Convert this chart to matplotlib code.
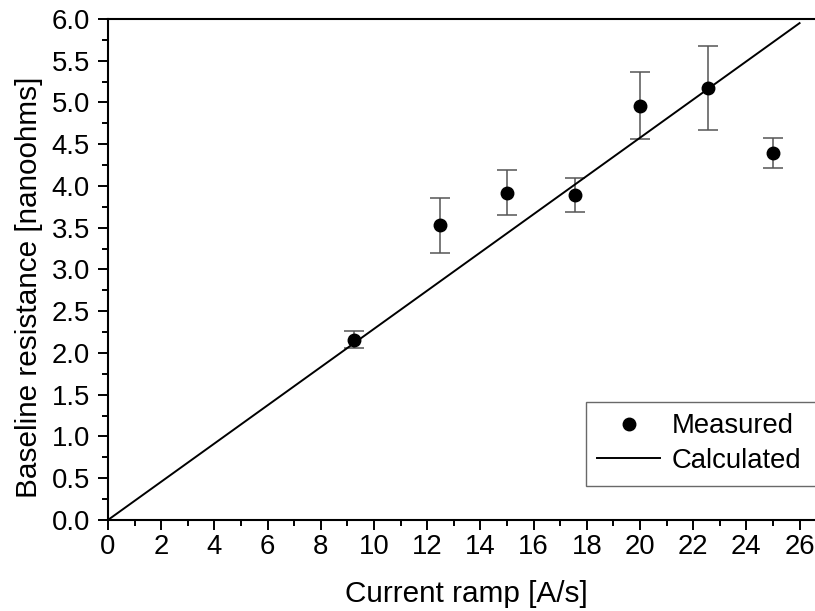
import numpy as np
import matplotlib.pyplot as plt
from matplotlib.ticker import MultipleLocator

# measured points
ramp = [9.25, 12.5, 15.0, 17.55, 20.0, 22.55, 25.0]
resistance = [2.16, 3.53, 3.92, 3.89, 4.96, 5.17, 4.39]
err_low = [0.10, 0.33, 0.27, 0.20, 0.40, 0.50, 0.18]
err_high = [0.10, 0.33, 0.27, 0.20, 0.40, 0.50, 0.18]

# calculated line
calc_x = [0.0, 26.0]
calc_y = [0.0, 5.95]

plt.rcParams['font.family'] = ['Liberation Sans', 'DejaVu Sans']
fs = 19.8
fs_lab = 21.4

fig = plt.figure(figsize=(8.15, 6.11), dpi=100)
ax = fig.add_axes([0.1325, 0.149, 0.8675, 0.82])

ax.errorbar(ramp, resistance, yerr=[err_low, err_high], fmt='none',
            ecolor='#555555', elinewidth=1.1, capsize=7.5, capthick=1.1, zorder=2)
ax.plot(ramp, resistance, 'o', color='black', markersize=9, label='Measured', zorder=3)
ax.plot(calc_x, calc_y, '-', color='black', linewidth=1.4, label='Calculated', zorder=2)

ax.set_xlim(0, 26.58)
ax.set_ylim(0, 6.0)
ax.xaxis.set_major_locator(MultipleLocator(2))
ax.xaxis.set_minor_locator(MultipleLocator(1))
ax.yaxis.set_major_locator(MultipleLocator(0.5))
ax.yaxis.set_minor_locator(MultipleLocator(0.25))
ax.yaxis.set_major_formatter(plt.FormatStrFormatter('%.1f'))

ax.tick_params(which='major', direction='out', length=7.5, width=1.4, labelsize=fs)
ax.tick_params(which='minor', direction='out', length=4, width=1.4)
ax.tick_params(axis='x', which='major', pad=2.5)
ax.tick_params(axis='y', which='major', pad=5.5)
for s in ['left', 'bottom', 'top']:
    ax.spines[s].set_linewidth(1.5)
ax.spines['right'].set_visible(False)

ax.set_xlabel('Current ramp [A/s]', fontsize=fs_lab)
ax.set_ylabel('Baseline resistance [nanoohms]', fontsize=fs_lab)
ax.xaxis.set_label_coords(0.507, -0.119)
ax.yaxis.set_label_coords(-0.0925, 0.465)

x0 = 585.5 / 815
y1 = 1 - 401.7 / 611
leg = ax.legend(loc='upper left', bbox_to_anchor=(x0, y1 - 0.2, 1.03 - x0, 0.2),
                bbox_transform=fig.transFigure, mode='expand', fontsize=fs,
                fancybox=False, edgecolor='#444444', handlelength=2.3,
                handletextpad=0.4, borderpad=0.42, labelspacing=0.32,
                borderaxespad=0)
leg.get_frame().set_linewidth(1.0)

fig.savefig('out.png', dpi=100)
